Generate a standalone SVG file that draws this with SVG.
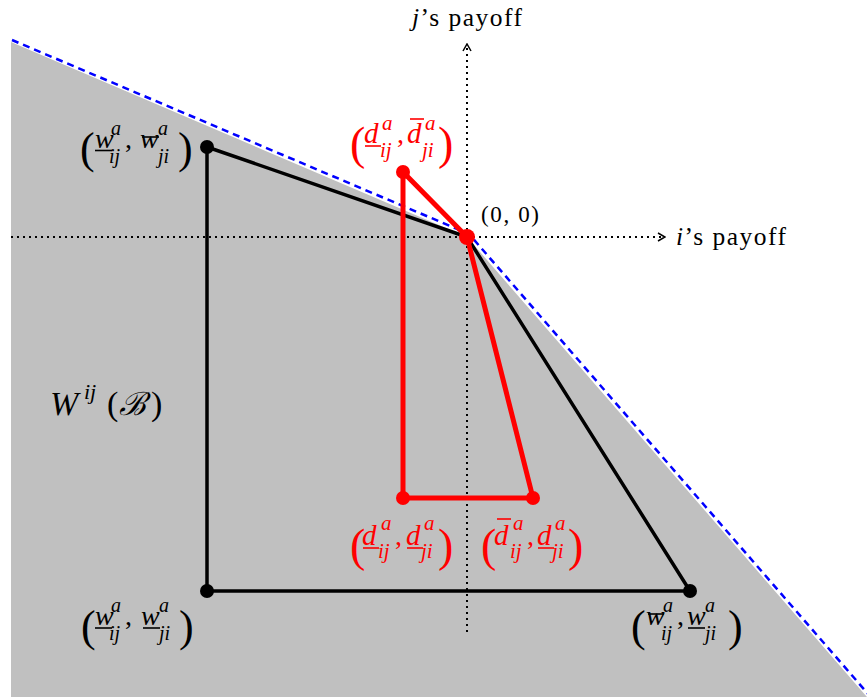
<svg xmlns="http://www.w3.org/2000/svg" width="867" height="698" viewBox="0 0 867 698" font-family="'Liberation Serif', 'DejaVu Serif', serif">
<style>
text{font-family:"Liberation Serif","Times New Roman","DejaVu Serif",serif;}
.v{font-style:italic;font-size:28px;}
.vr{font-style:italic;font-size:29px;}
.s{font-style:italic;font-size:20px;}
.sr{font-style:italic;font-size:21px;}
.p{font-size:44px;}
.pr{font-size:46px;}
.c{font-size:28px;}
.ax-t{font-size:25.5px;}
.red{fill:#ff0000;}
.bar{stroke:#000;stroke-width:1.6;}
.rbar{stroke:#ff0000;stroke-width:1.6;}
.ax{stroke:#000;stroke-width:2;stroke-dasharray:2 4;fill:none;}
.blk{stroke:#000;stroke-width:3.5;fill:none;stroke-linejoin:round;}
.rl{stroke:#ff0000;stroke-width:5;fill:none;stroke-linejoin:round;}
</style>
<defs>
<marker id="arr" viewBox="0 0 10 10" refX="9" refY="5" markerWidth="10" markerHeight="10" markerUnits="userSpaceOnUse" orient="auto">
<path d="M2,1 L9,5 L2,9" fill="none" stroke="#000" stroke-width="1.5"/>
</marker>
</defs>
<rect width="867" height="698" fill="#fff"/>
<g id="region">
<polygon points="11,42 467,237 867,697 11,697" fill="#c0c0c0"/>
<polyline points="12,40 469,234 869,695" fill="none" stroke="#0000ff" stroke-width="2.5" stroke-dasharray="7 5"/>
</g>
<g id="connectors">
<line class="ax" x1="11" y1="237" x2="665" y2="237" marker-end="url(#arr)"/>
<line class="ax" x1="467" y1="632" x2="467" y2="44" marker-end="url(#arr)"/>
<polygon class="blk" points="207,147 467,237 690,591 207,591"/>
<polygon class="rl" points="403,172 467,237 533,498 403,498"/>
</g>
<g id="axis-labels">
<text class="ax-t" x="412" y="26" textLength="110" lengthAdjust="spacing"><tspan font-style="italic">j</tspan>’s payoff</text>
<text class="ax-t" x="676" y="245" textLength="110" lengthAdjust="spacing"><tspan font-style="italic">i</tspan>’s payoff</text>
<text x="481" y="222" font-size="23" textLength="58" lengthAdjust="spacing">(0, 0)</text>
</g>
<g id="W">
<text x="50" y="415" font-style="italic" font-size="34">W</text>
<text x="84" y="399" font-style="italic" font-size="22">ij</text>
<text x="107" y="415" font-size="34">(</text>
<text x="119" y="415" font-size="32" font-style="italic">ℬ</text>
<text x="151" y="415" font-size="34">)</text>
</g>
<g id="node-w-ul">
<circle cx="207" cy="147" r="7"/>
<text class="p" x="80" y="163">(</text>
<text class="v" x="95" y="148">w</text><line class="bar" x1="95" y1="150.5" x2="112" y2="150.5"/>
<text class="s" x="111" y="135">a</text><text class="s" x="109" y="163">ij</text>
<text class="c" x="125" y="148">,</text>
<text class="v" x="140" y="148">w</text><line class="bar" x1="142" y1="137" x2="159" y2="137"/>
<text class="s" x="158" y="135">a</text><text class="s" x="158" y="163">ji</text>
<text class="p" x="178" y="163">)</text>
</g>
<g id="node-w-ll">
<circle cx="207" cy="591" r="7"/>
<text class="p" x="81" y="641">(</text>
<text class="v" x="95" y="625">w</text><line class="bar" x1="95" y1="628" x2="112" y2="628"/>
<text class="s" x="111" y="612">a</text><text class="s" x="109" y="640">ij</text>
<text class="c" x="125" y="625">,</text>
<text class="v" x="141" y="625">w</text><line class="bar" x1="143" y1="628" x2="160" y2="628"/>
<text class="s" x="159" y="612">a</text><text class="s" x="159" y="640">ji</text>
<text class="p" x="179" y="641">)</text>
</g>
<g id="node-w-lr">
<circle cx="690" cy="591" r="7"/>
<text class="p" x="631" y="641">(</text>
<text class="v" x="646" y="625">w</text><line class="bar" x1="648" y1="614" x2="664" y2="614"/>
<text class="s" x="663" y="612">a</text><text class="s" x="661" y="640">ij</text>
<text class="c" x="677" y="625">,</text>
<text class="v" x="687" y="625">w</text><line class="bar" x1="688" y1="628" x2="705" y2="628"/>
<text class="s" x="705" y="612">a</text><text class="s" x="705" y="640">ji</text>
<text class="p" x="728" y="641">)</text>
</g>
<g id="node-d-top">
<circle cx="403" cy="172" r="7" fill="#ff0000"/>
<text class="pr red" x="350" y="159">(</text>
<text class="vr red" x="364" y="143">d</text><line class="rbar" x1="365" y1="146" x2="381" y2="146"/>
<text class="sr red" x="382" y="130">a</text><text class="sr red" x="380" y="157">ij</text>
<text class="c red" x="397" y="143">,</text>
<text class="vr red" x="407" y="143">d</text><line class="rbar" x1="410" y1="119" x2="424" y2="119"/>
<text class="sr red" x="425" y="130">a</text><text class="sr red" x="422" y="157">ji</text>
<text class="pr red" x="438" y="159">)</text>
</g>
<g id="node-d-ll">
<circle cx="403" cy="498" r="7" fill="#ff0000"/>
<text class="pr red" x="350" y="561">(</text>
<text class="vr red" x="362" y="545">d</text><line class="rbar" x1="363" y1="548" x2="379" y2="548"/>
<text class="sr red" x="381" y="530">a</text><text class="sr red" x="378" y="558">ij</text>
<text class="c red" x="395" y="545">,</text>
<text class="vr red" x="406" y="545">d</text><line class="rbar" x1="407" y1="548" x2="423" y2="548"/>
<text class="sr red" x="424" y="530">a</text><text class="sr red" x="421" y="558">ji</text>
<text class="pr red" x="438" y="561">)</text>
</g>
<g id="node-d-lr">
<circle cx="533" cy="498" r="7" fill="#ff0000"/>
<text class="pr red" x="481" y="561">(</text>
<text class="vr red" x="494" y="545">d</text><line class="rbar" x1="497" y1="519" x2="511" y2="519"/>
<text class="sr red" x="513" y="530">a</text><text class="sr red" x="510" y="558">ij</text>
<text class="c red" x="527" y="545">,</text>
<text class="vr red" x="537" y="545">d</text><line class="rbar" x1="538" y1="548" x2="554" y2="548"/>
<text class="sr red" x="555" y="530">a</text><text class="sr red" x="552" y="558">ji</text>
<text class="pr red" x="568" y="561">)</text>
</g>
<g id="node-origin">
<circle cx="467" cy="237" r="8" fill="#ff0000"/>
</g>
</svg>
